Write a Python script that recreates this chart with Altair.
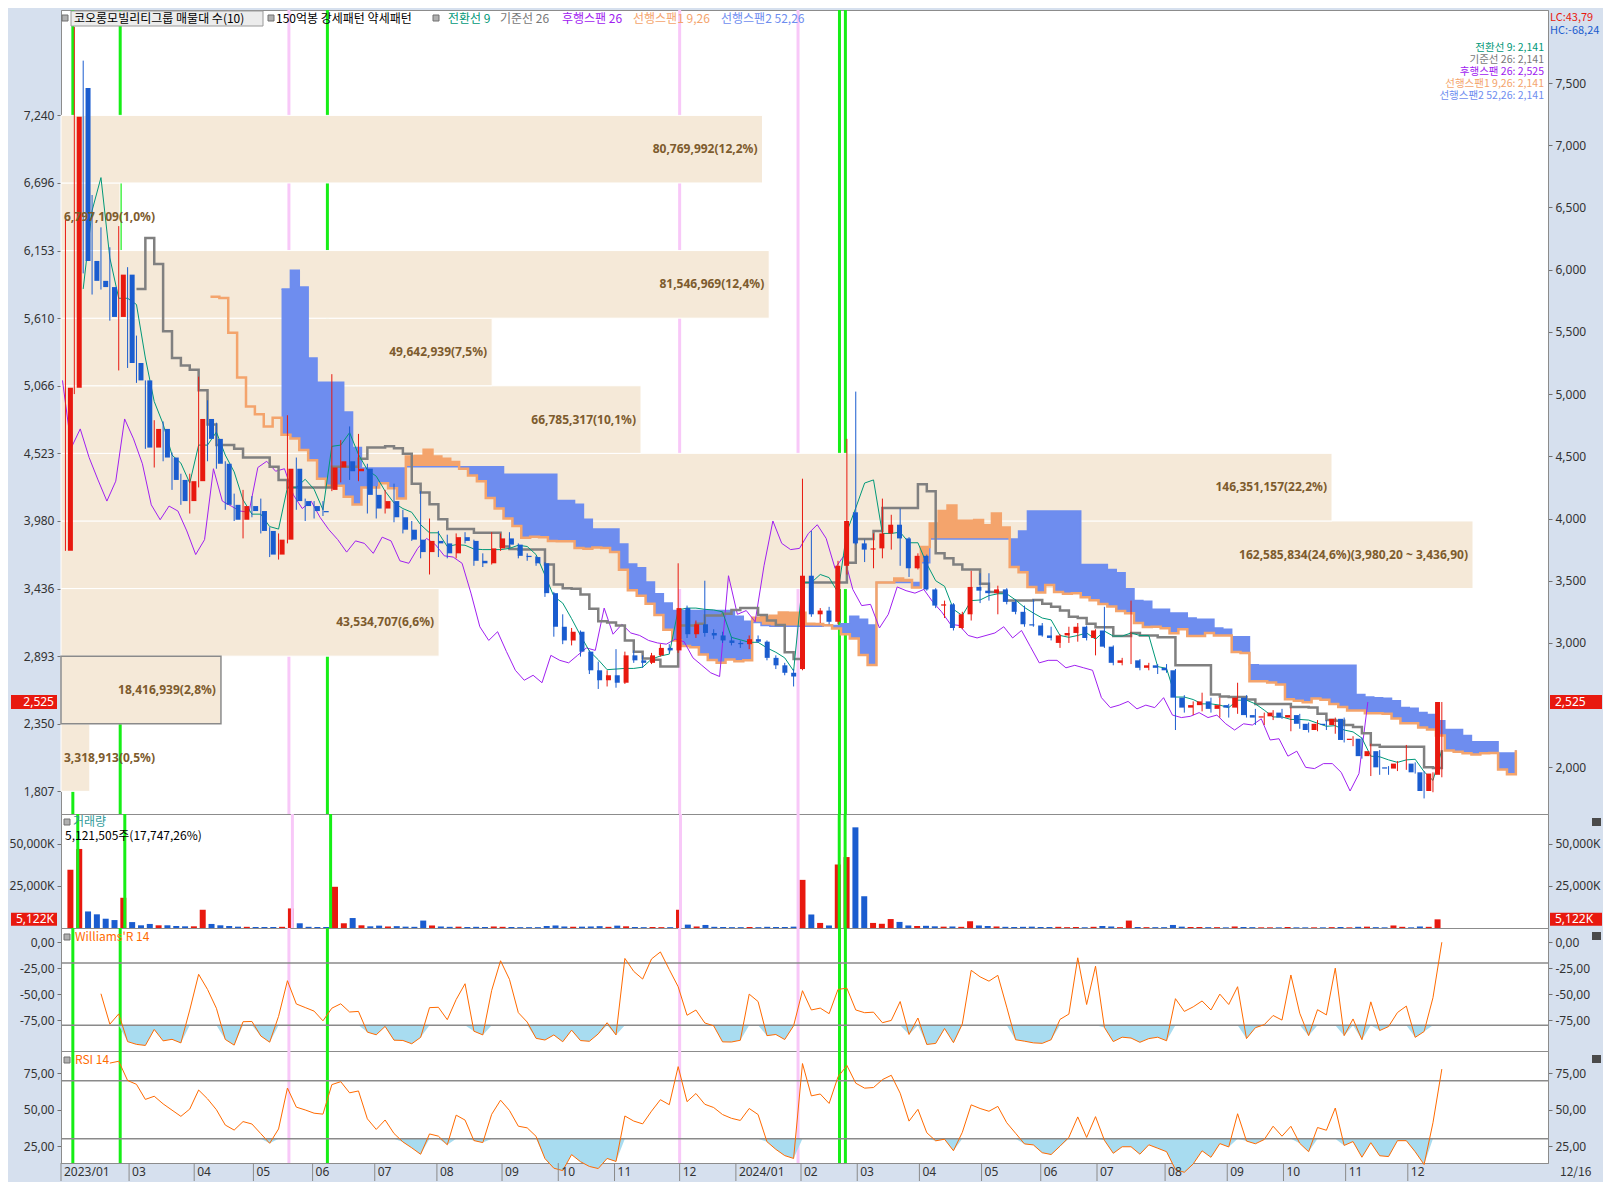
import altair as alt
import numpy as np
import pandas as pd

# ---------------- data (3-trading-day candles, 2023-01-27 .. 2024-12-16) ----------------
OPEN = [3740, 5050, 7460, 6070, 5910, 5860, 5620, 5960, 5250, 5110,
        4570, 4720, 4490, 4310, 4140, 4300, 4800, 4640, 4440, 4110,
        3990, 4100, 4060, 3900, 3710, 3830, 4400, 4140, 4100, 4060,
        4230, 4410, 4460, 4380, 4400, 4190, 4080, 4140, 4010, 3910,
        3830, 3730, 3820, 3800, 3720, 3850, 3820, 3660, 3640, 3760,
        3840, 3790, 3700, 3690, 3640, 3400, 3130, 3020, 3090, 2930,
        2780, 2700, 2740, 2680, 2900, 2860, 2840, 2900, 2960, 2940,
        3280, 3070, 3150, 3080, 3060, 3020, 3000, 2990, 3030, 3010,
        2880, 2820, 2760, 2790, 3540, 3230, 3260, 3170, 3620, 4050,
        3800, 3750, 3760, 3880, 3950, 3840, 3600, 3700, 3430, 3300,
        3310, 3120, 3230, 3450, 3420, 3400, 3430, 3330, 3250, 3150,
        3140, 3060, 3000, 3060, 3080, 3130, 3040, 3100, 2970, 2840,
        2860, 2860, 2800, 2820, 2800, 2780, 2560, 2480, 2500, 2530,
        2470, 2500, 2480, 2560, 2420, 2400, 2410, 2440, 2400, 2420,
        2350, 2300, 2350, 2340, 2390, 2220, 2230, 2090, 2130, 2000,
        1990, 2030, 2030, 1960, 1810, 1940]
HIGH = [6400, 7950, 7680, 6600, 6340, 6180, 6350, 6020, 5470, 5110,
        4790, 4780, 4530, 4360, 4360, 5140, 4950, 4770, 4460, 4200,
        4230, 4180, 4160, 3930, 3880, 4830, 4490, 4160, 4140, 4140,
        5160, 4630, 4740, 4680, 4440, 4260, 4230, 4280, 4070, 3980,
        4220, 4000, 3900, 3870, 3880, 3890, 3830, 3720, 3890, 3880,
        3890, 3800, 3720, 3700, 3650, 3410, 3230, 3120, 3100, 2940,
        2850, 2780, 2950, 2930, 2940, 2900, 2920, 2990, 2990, 3640,
        3300, 3180, 3500, 3110, 3090, 3050, 3020, 3060, 3060, 3020,
        2900, 2840, 2790, 4320, 3900, 3280, 3290, 3660, 4640, 5020,
        3830, 3880, 4160, 4030, 4080, 3850, 3720, 3710, 3440, 3340,
        3320, 3250, 3580, 3560, 3560, 3460, 3440, 3350, 3300, 3350,
        3160, 3130, 3070, 3130, 3160, 3140, 3110, 3290, 2980, 2880,
        3340, 2870, 2840, 2830, 2830, 2790, 2580, 2530, 2600, 2560,
        2560, 2510, 2680, 2580, 2470, 2440, 2460, 2470, 2480, 2430,
        2360, 2380, 2380, 2400, 2400, 2250, 2240, 2190, 2140, 2010,
        2050, 2180, 2040, 1970, 1960, 2525]
LOW = [3740, 5000, 5970, 5800, 5840, 5590, 5190, 5210, 5090, 4560,
       4410, 4460, 4230, 4110, 4040, 4250, 4460, 4400, 4070, 3980,
       3840, 4010, 3880, 3690, 3670, 3800, 4070, 3980, 4000, 4020,
       4220, 4290, 4310, 4300, 4040, 4000, 4040, 3970, 3880, 3820,
       3680, 3550, 3690, 3680, 3680, 3800, 3620, 3610, 3630, 3740,
       3760, 3680, 3660, 3620, 3370, 3050, 2990, 2980, 2890, 2750,
       2630, 2650, 2640, 2670, 2840, 2800, 2830, 2890, 2920, 2920,
       3040, 3040, 3050, 3030, 3000, 2980, 2960, 2950, 3000, 2860,
       2790, 2740, 2650, 2780, 3210, 3160, 3150, 3150, 3550, 3790,
       3650, 3600, 3680, 3750, 3620, 3530, 3590, 3420, 3280, 3200,
       3100, 3110, 3180, 3320, 3340, 3230, 3310, 3230, 3130, 3130,
       3050, 3020, 2960, 3000, 3010, 3020, 2900, 2960, 2820, 2820,
       2830, 2780, 2780, 2750, 2760, 2300, 2440, 2420, 2450, 2440,
       2400, 2400, 2430, 2400, 2340, 2340, 2380, 2390, 2290, 2310,
       2280, 2290, 2300, 2270, 2200, 2170, 2070, 1930, 1940, 1940,
       1970, 1980, 1950, 1750, 1800, 1920]
CLOSE = [5050, 7230, 6070, 5910, 5860, 5620, 5960, 5250, 5110, 4570,
         4720, 4490, 4310, 4140, 4300, 4800, 4640, 4440, 4110, 3990,
         4100, 4060, 3900, 3710, 3830, 4400, 4140, 4100, 4060, 4050,
         4410, 4460, 4380, 4400, 4190, 4080, 4140, 4010, 3910, 3830,
         3730, 3820, 3800, 3720, 3850, 3820, 3660, 3640, 3760, 3840,
         3790, 3700, 3690, 3640, 3400, 3130, 3020, 3090, 2930, 2780,
         2700, 2740, 2680, 2900, 2860, 2840, 2900, 2960, 2940, 3280,
         3070, 3150, 3080, 3060, 3020, 3000, 2990, 3030, 3010, 2880,
         2820, 2760, 2730, 3540, 3230, 3260, 3170, 3620, 3980, 3800,
         3750, 3760, 3880, 3950, 3840, 3600, 3700, 3430, 3300, 3310,
         3120, 3230, 3450, 3420, 3400, 3430, 3330, 3250, 3150, 3140,
         3060, 3040, 3060, 3080, 3130, 3040, 3100, 2970, 2840, 2860,
         2860, 2800, 2820, 2800, 2780, 2560, 2480, 2500, 2530, 2470,
         2500, 2480, 2560, 2420, 2400, 2410, 2440, 2400, 2420, 2350,
         2300, 2350, 2340, 2390, 2220, 2230, 2090, 2130, 2000, 1990,
         2030, 2030, 1960, 1810, 1950, 2525]
VOLUME_K = [34500, 46800, 9800, 8100, 5500, 4700, 17900, 3500, 1600, 2400,
            1600, 1600, 1200, 1000, 1000, 10800, 2400, 1600, 1200, 800,
            700, 600, 600, 600, 700, 11600, 2800, 700, 600, 600,
            24400, 2800, 5900, 1600, 1000, 1400, 900, 1100, 800, 700,
            4400, 1500, 900, 700, 800, 600, 700, 600, 900, 700,
            600, 500, 500, 500, 1200, 1500, 900, 700, 800, 900,
            1100, 700, 1400, 1000, 600, 500, 600, 500, 500, 10800,
            2000, 900, 1800, 700, 600, 500, 500, 600, 500, 700,
            600, 600, 800, 28500, 8000, 3000, 1500, 37600, 42000, 59600,
            18800, 3000, 2500, 5300, 3600, 1500, 1200, 1300, 1000, 800,
            900, 700, 4000, 1500, 1200, 900, 700, 600, 700, 800,
            600, 600, 700, 500, 600, 500, 700, 1200, 900, 500,
            4400, 600, 500, 500, 500, 1800, 800, 600, 600, 500,
            500, 400, 900, 600, 500, 400, 400, 400, 600, 400,
            400, 400, 400, 500, 600, 400, 700, 800, 500, 400,
            1500, 700, 400, 900, 700, 5122]

# volume profile (매물대, 10 bands)
BAND_LOW = [1807, 2350.3, 2893.6, 3436.9, 3980.2, 4523.5, 5066.8, 5610.1, 6153.4, 6696.7]
BAND_HIGH = [2350.3, 2893.6, 3436.9, 3980.2, 4523.5, 5066.8, 5610.1, 6153.4, 6696.7, 7240]
BAND_VOL = [3318913, 18416939, 43534707, 162585834, 146351157, 66785317, 49642939, 81546969, 6797109, 80769992]
BAND_PCT = ["0,5%", "2,8%", "6,6%", "24,6%", "22,2%", "10,1%", "7,5%", "12,4%", "1,0%", "12,2%"]

# signals (trading-day index)
GREEN_DAYS = [4, 20, 90, 263, 265]
PINK_DAYS = [77, 209, 249]

# x-axis month ticks (trading-day index of first session of month)
MONTH_DAY = [0, 23, 45, 65, 85, 106, 127, 149, 168, 187, 209, 228, 250, 269, 290, 311, 331, 350, 373, 394, 413, 434, 455]
MONTH_LABEL = ["2023/01", "03", "04", "05", "06", "07", "08", "09", "10", "11", "12",
               "2024/01", "02", "03", "04", "05", "06", "07", "08", "09", "10", "11", "12"]

LEGEND_VALUES = ["전환선 9: 2,141", "기준선 26: 2,141", "후행스팬 26: 2,525", "선행스팬1 9,26: 2,141", "선행스팬2 52,26: 2,141"]

# ---------------- styling ----------------
W = 1487
H_MAIN, H_VOL, H_WR, H_RSI = 804, 114, 123, 112
DAY_MAX = W / 2.96
FONT = "Noto Sans CJK KR"
RED, BLUE = "#e8190f", "#1a5ccf"
C_TENKAN, C_KIJUN, C_CHIKOU, C_SPAN1, C_SPAN2 = "#009878", "#808080", "#a020f0", "#f4a46c", "#6e8def"
GREEN, PINK = "#16ee16", "#f8c8f8"
ORANGE = "#ff6a00"

XS = alt.Scale(domain=[0, DAY_MAX], nice=False, zero=False)
YS = alt.Scale(domain=[1625, 8087], nice=False, zero=False)


def X(f, axis=None):
    return alt.X(f, type="quantitative", scale=XS, axis=axis)


def Y(f, scale=YS, axis=None):
    return alt.Y(f, type="quantitative", scale=scale, axis=axis)


# ---------------- derived frames ----------------
df = pd.DataFrame({"o": OPEN, "h": HIGH, "l": LOW, "c": CLOSE, "v": VOLUME_K})
df["day"] = np.arange(len(df)) * 3 + 1.5
df["col"] = np.where(df.c >= df.o, RED, BLUE)

tenkan = (df.h.rolling(3).max() + df.l.rolling(3).min()) / 2
kijun = (df.h.rolling(9).max() + df.l.rolling(9).min()) / 2
span1 = (tenkan + kijun) / 2
span2 = (df.h.rolling(17).max() + df.l.rolling(17).min()) / 2
ich = pd.DataFrame({"day": df.day, "tenkan": tenkan, "kijun": kijun})
lead = pd.DataFrame({"day": df.day + 25, "s1": span1, "s2": span2})
s1df = lead.dropna(subset=["s1"])
cloud = lead.dropna().copy()
cloud["top"] = cloud[["s1", "s2"]].max(axis=1)
lag = pd.DataFrame({"day": df.day - 25, "c": df.c})
lag = lag[lag.day >= 0]

hh = df.h.rolling(5).max()
ll = df.l.rolling(5).min()
wr = -100 * (hh - df.c) / (hh - ll)
wdf = pd.DataFrame({"day": df.day, "wr": wr}).dropna()
wdf["lo"] = np.minimum(wdf.wr, -80)
wdf["base"] = -80.0

d = df.c.diff()
au = d.clip(lower=0).ewm(alpha=1 / 5, adjust=False, min_periods=5).mean()
ad = (-d.clip(upper=0)).ewm(alpha=1 / 5, adjust=False, min_periods=5).mean()
rsi = 100 - 100 / (1 + au / ad)
rdf = pd.DataFrame({"day": df.day, "rsi": rsi}).dropna()
rdf["lo"] = np.minimum(rdf.rsi, 30)
rdf["base"] = 30.0

prof = pd.DataFrame({"lo": BAND_LOW, "hi": BAND_HIGH, "vol": BAND_VOL, "pct": BAND_PCT})
prof["mid"] = (prof.lo + prof.hi) / 2
prof["zero"] = 0
vmax = max(BAND_VOL)
prof["label"] = [f"{v:,}({p})" for v, p in zip(prof.vol, prof.pct)]
imax = int(np.argmax(BAND_VOL))
prof.loc[imax, "label"] += ("(" + f"{BAND_HIGH[imax]:,.2f} ~ {BAND_LOW[imax]:,.2f}".replace(".", ",") + ")")
last_close = CLOSE[-1]
cur_band = prof[(prof.lo <= last_close) & (prof.hi > last_close)]
PX = alt.Scale(domain=[0, vmax * W / 1412], nice=False, zero=True)

one = pd.DataFrame({"a": [0]})
sig = pd.DataFrame({"day": GREEN_DAYS + PINK_DAYS,
                    "col": [GREEN] * len(GREEN_DAYS) + [PINK] * len(PINK_DAYS)})
mdf = pd.DataFrame({"day": MONTH_DAY, "lab": MONTH_LABEL})


def vlines():
    return alt.Chart(sig).mark_rule(strokeWidth=3).encode(
        x=X("day"), color=alt.Color("col:N", scale=None))


def txt(s, x, y, color="#000000", align="left", size=12, weight="normal"):
    return alt.Chart(one).mark_text(text=s, align=align, baseline="middle", font=FONT,
                                    fontSize=size, color=color, fontWeight=weight).encode(
        x=alt.value(x), y=alt.value(y))


def icon(x, y):
    return alt.Chart(one).mark_rect(fill="#b0b0b0", stroke="#707070", strokeWidth=1).encode(
        x=alt.value(x), x2=alt.value(x + 6), y=alt.value(y - 3), y2=alt.value(y + 3))


def closebtn(y):
    return alt.Chart(one).mark_rect(fill="#4a4a4a").encode(
        x=alt.value(W + 44), x2=alt.value(W + 53), y=alt.value(y - 4), y2=alt.value(y + 4))


# ---------------- main panel ----------------
left_axis = alt.Axis(orient="left", values=BAND_LOW + [BAND_HIGH[-1]],
                     labelExpr="format(floor(datum.value), ',')", title=None)
right_vals = [v for v in range(2000, 8000, 500) if abs(v - last_close) > 60]   # the price box covers the nearest tick
right_axis = alt.Axis(orient="right", values=right_vals, format=",d", title=None)

prof_bars = alt.Chart(prof).mark_rect(color="#f5e9d8", stroke="white", strokeWidth=1).encode(
    x=alt.X("zero:Q", scale=PX, axis=None), x2="vol:Q",
    y=Y("lo", axis=left_axis), y2="hi:Q")
prof_cur = alt.Chart(cur_band).mark_rect(fillOpacity=0, stroke="#8a8a8a", strokeWidth=1.5).encode(
    x=alt.X("zero:Q", scale=PX, axis=None), x2="vol:Q", y=Y("lo"), y2="hi:Q")
prof_big = alt.Chart(prof[prof.vol / vmax > 0.08]).mark_text(
    align="right", baseline="middle", dx=-5, font="Noto Sans", fontWeight="bold",
    fontSize=12, color="#7d5b2d").encode(
    x=alt.X("vol:Q", scale=PX, axis=None), y=Y("mid"), text="label:N")
prof_small = alt.Chart(prof[prof.vol / vmax <= 0.08]).mark_text(
    align="left", baseline="middle", dx=3, font="Noto Sans", fontWeight="bold",
    fontSize=12, color="#7d5b2d").encode(
    x=alt.X("zero:Q", scale=PX, axis=None), y=Y("mid"), text="label:N")

cloud_blue = alt.Chart(cloud).mark_area(color=C_SPAN2, interpolate="step-after", opacity=1).encode(
    x=X("day"), y=Y("s1"), y2="top:Q")
cloud_orange = alt.Chart(cloud).mark_area(color=C_SPAN1, interpolate="step-after", opacity=1).encode(
    x=X("day"), y=Y("s2"), y2="top:Q")
span2_line = alt.Chart(cloud).mark_line(color=C_SPAN2, strokeWidth=1.5, interpolate="step-after").encode(
    x=X("day"), y=Y("s2"))
span1_line = alt.Chart(s1df).mark_line(color=C_SPAN1, strokeWidth=2.5, interpolate="step-after").encode(
    x=X("day"), y=Y("s1"))
chikou = alt.Chart(lag).mark_line(color=C_CHIKOU, strokeWidth=1).encode(x=X("day"), y=Y("c"))
kijun_line = alt.Chart(ich.dropna(subset=["kijun"])).mark_line(
    color=C_KIJUN, strokeWidth=2.5, interpolate="step-after").encode(x=X("day"), y=Y("kijun"))
tenkan_line = alt.Chart(ich.dropna(subset=["tenkan"])).mark_line(
    color=C_TENKAN, strokeWidth=1).encode(x=X("day"), y=Y("tenkan"))

wick = alt.Chart(df).mark_rule(strokeWidth=1).encode(
    x=X("day"), y=Y("l", axis=right_axis), y2="h:Q", color=alt.Color("col:N", scale=None))
body = alt.Chart(df).mark_bar(size=5).encode(
    x=X("day"), y=Y("o"), y2="c:Q", color=alt.Color("col:N", scale=None))

lastdf = pd.DataFrame({"p": [last_close], "t": [f"{last_close:,}"]})
box_l = alt.Chart(lastdf).mark_tick(orient="horizontal", size=46, thickness=14, color=RED, opacity=1).encode(
    x=alt.value(-27), y=Y("p"))
box_l_t = alt.Chart(lastdf).mark_text(align="right", baseline="middle", color="white", font="Noto Sans",
                                      fontSize=12).encode(x=alt.value(-7), y=Y("p"), text="t:N")
box_r = alt.Chart(lastdf).mark_tick(orient="horizontal", size=52, thickness=14, color=RED, opacity=1).encode(
    x=alt.value(W + 28), y=Y("p"))
box_r_t = alt.Chart(lastdf).mark_text(align="left", baseline="middle", color="white", font="Noto Sans",
                                      fontSize=12).encode(x=alt.value(W + 7), y=Y("p"), text="t:N")

legend_layers = [
    icon(1, 8),
    alt.Chart(one).mark_rect(fill="#ececec", stroke="#9a9a9a", strokeWidth=1).encode(
        x=alt.value(10), x2=alt.value(202), y=alt.value(1), y2=alt.value(16)),
    txt("코오롱모빌리티그룹 매물대 수(10)", 13, 8.5),
    icon(207, 8),
    txt("150억봉 강세패턴  약세패턴", 215, 8.5),
    icon(372, 8),
    txt("전환선 9", 387, 8.5, C_TENKAN),
    txt("기준선 26", 439, 8.5, "#777777"),
    txt("후행스팬 26", 501, 8.5, C_CHIKOU),
    txt("선행스팬1 9,26", 572, 8.5, C_SPAN1),
    txt("선행스팬2 52,26", 660, 8.5, C_SPAN2),
]
vals_cols = [C_TENKAN, "#777777", C_CHIKOU, C_SPAN1, C_SPAN2]
for j, (s, cc) in enumerate(zip(LEGEND_VALUES, vals_cols)):
    legend_layers.append(txt(s, W - 4, 38 + 12 * j, cc, align="right", size=10.5))
legend_layers.append(txt("LC:43,79", W + 2, 8, "#e8190f", size=11))
legend_layers.append(txt("HC:-68,24", W + 2, 21, "#1a5ccf", size=11))

main = alt.layer(
    vlines(), prof_bars, prof_cur,
    cloud_blue, cloud_orange, span2_line, span1_line,
    chikou, kijun_line, tenkan_line, wick, body,
    prof_big, prof_small,
    box_l, box_l_t, box_r, box_r_t,
    *legend_layers,
).properties(width=W, height=H_MAIN).resolve_scale(x="independent").resolve_axis(y="independent")

# ---------------- volume panel ----------------
VS = alt.Scale(domain=[0, 67500], nice=False, zero=True)
vol_lab = "format(datum.value, ',') + 'K'"
vol_bars = alt.Chart(df).mark_bar(size=6).encode(
    x=X("day"), y=Y("v", VS, alt.Axis(orient="left", values=[25000, 50000], labelExpr=vol_lab, title=None)),
    color=alt.Color("col:N", scale=None))
lastv = pd.DataFrame({"v": [VOLUME_K[-1]], "t": [f"{VOLUME_K[-1]:,}K"]})
vbox_l = alt.Chart(lastv).mark_tick(orient="horizontal", size=46, thickness=13, color=RED, opacity=1).encode(
    x=alt.value(-27), y=Y("v", VS, alt.Axis(orient="right", values=[25000, 50000], labelExpr=vol_lab, title=None)))
vbox_l_t = alt.Chart(lastv).mark_text(align="right", baseline="middle", color="white", font="Noto Sans",
                                      fontSize=12).encode(x=alt.value(-7), y=Y("v", VS), text="t:N")
vbox_r = alt.Chart(lastv).mark_tick(orient="horizontal", size=52, thickness=13, color=RED, opacity=1).encode(
    x=alt.value(W + 28), y=Y("v", VS))
vbox_r_t = alt.Chart(lastv).mark_text(align="left", baseline="middle", color="white", font="Noto Sans",
                                      fontSize=12).encode(x=alt.value(W + 7), y=Y("v", VS), text="t:N")
vol = alt.layer(
    vol_bars, vlines(), vbox_l, vbox_l_t, vbox_r, vbox_r_t,
    icon(3, 8), txt("거래량", 12, 8, "#2f9a9a"), txt("5,121,505주(17,747,26%)", 4, 22),
    closebtn(8),
).properties(width=W, height=H_VOL).resolve_axis(y="independent")

# ---------------- Williams %R panel ----------------
WS = alt.Scale(domain=[-104.8, 13.7], nice=False, zero=False)
wr_lab = "(datum.value < 0 ? '-' : '') + replace(format(abs(datum.value), '.2f'), '.', ',')"
levels_w = pd.DataFrame({"y": [-20, -80]})
wr_fill = alt.Chart(wdf).mark_area(color="#a8dcf0", opacity=1).encode(x=X("day"), y=Y("lo", WS), y2="base:Q")
wr_lv = alt.Chart(levels_w).mark_rule(color="#8a8a8a", strokeWidth=1.5).encode(
    y=Y("y", WS, alt.Axis(orient="right", values=[0, -25, -50, -75], labelExpr=wr_lab, title=None)))
wr_line = alt.Chart(wdf).mark_line(color=ORANGE, strokeWidth=1).encode(
    x=X("day"), y=Y("wr", WS, alt.Axis(orient="left", values=[0, -25, -50, -75], labelExpr=wr_lab, title=None)))
wrp = alt.layer(
    vlines(), wr_fill, wr_lv, wr_line,
    icon(3, 9), txt("Williams'R 14", 14, 9, ORANGE), closebtn(8),
).properties(width=W, height=H_WR).resolve_axis(y="independent")

# ---------------- RSI panel ----------------
RS = alt.Scale(domain=[13.3, 90.4], nice=False, zero=False)
rsi_lab = "replace(format(datum.value, '.2f'), '.', ',')"
levels_r = pd.DataFrame({"y": [70, 30]})
rsi_fill = alt.Chart(rdf).mark_area(color="#a8dcf0", opacity=1).encode(x=X("day"), y=Y("lo", RS), y2="base:Q")
rsi_lv = alt.Chart(levels_r).mark_rule(color="#8a8a8a", strokeWidth=1.5).encode(
    y=Y("y", RS, alt.Axis(orient="right", values=[25, 50, 75], labelExpr=rsi_lab, title=None)))
rsi_line = alt.Chart(rdf).mark_line(color=ORANGE, strokeWidth=1).encode(
    x=X("day"),
    y=Y("rsi", RS, alt.Axis(orient="left", values=[25, 50, 75], labelExpr=rsi_lab, title=None)))
# month ticks and labels in the band under the last panel
x_ticks = alt.Chart(mdf).mark_rule(color="#8a8a8a", strokeWidth=1).encode(
    x=X("day"), y=alt.value(H_RSI), y2=alt.value(H_RSI + 18))
x_labels = alt.Chart(mdf).mark_text(align="left", baseline="middle", dx=3, font="Noto Sans",
                                    fontSize=12, color="#333333").encode(
    x=X("day"), y=alt.value(H_RSI + 9), text="lab:N")
rsip = alt.layer(
    vlines(), rsi_fill, rsi_lv, rsi_line, x_ticks, x_labels,
    icon(3, 9), txt("RSI 14", 14, 9, ORANGE), closebtn(8),
    txt("12/16", W + 12, H_RSI + 9, "#333333"),
).properties(width=W, height=H_RSI).resolve_axis(y="independent")

chart = alt.vconcat(main, vol, wrp, rsip, spacing=0, bounds="flush").properties(
    background="#d6e0ee", padding=0
).configure_view(fill="white", stroke="#8c8c8c", strokeWidth=1).configure_axis(
    labelFont="Noto Sans", labelFontSize=12, labelColor="#333333", tickColor="#707070",
    domainColor="#8c8c8c", grid=False, tickSize=4, labelPadding=3
)

chart.save("out.html", embed_options={"renderer": "svg", "actions": False})
